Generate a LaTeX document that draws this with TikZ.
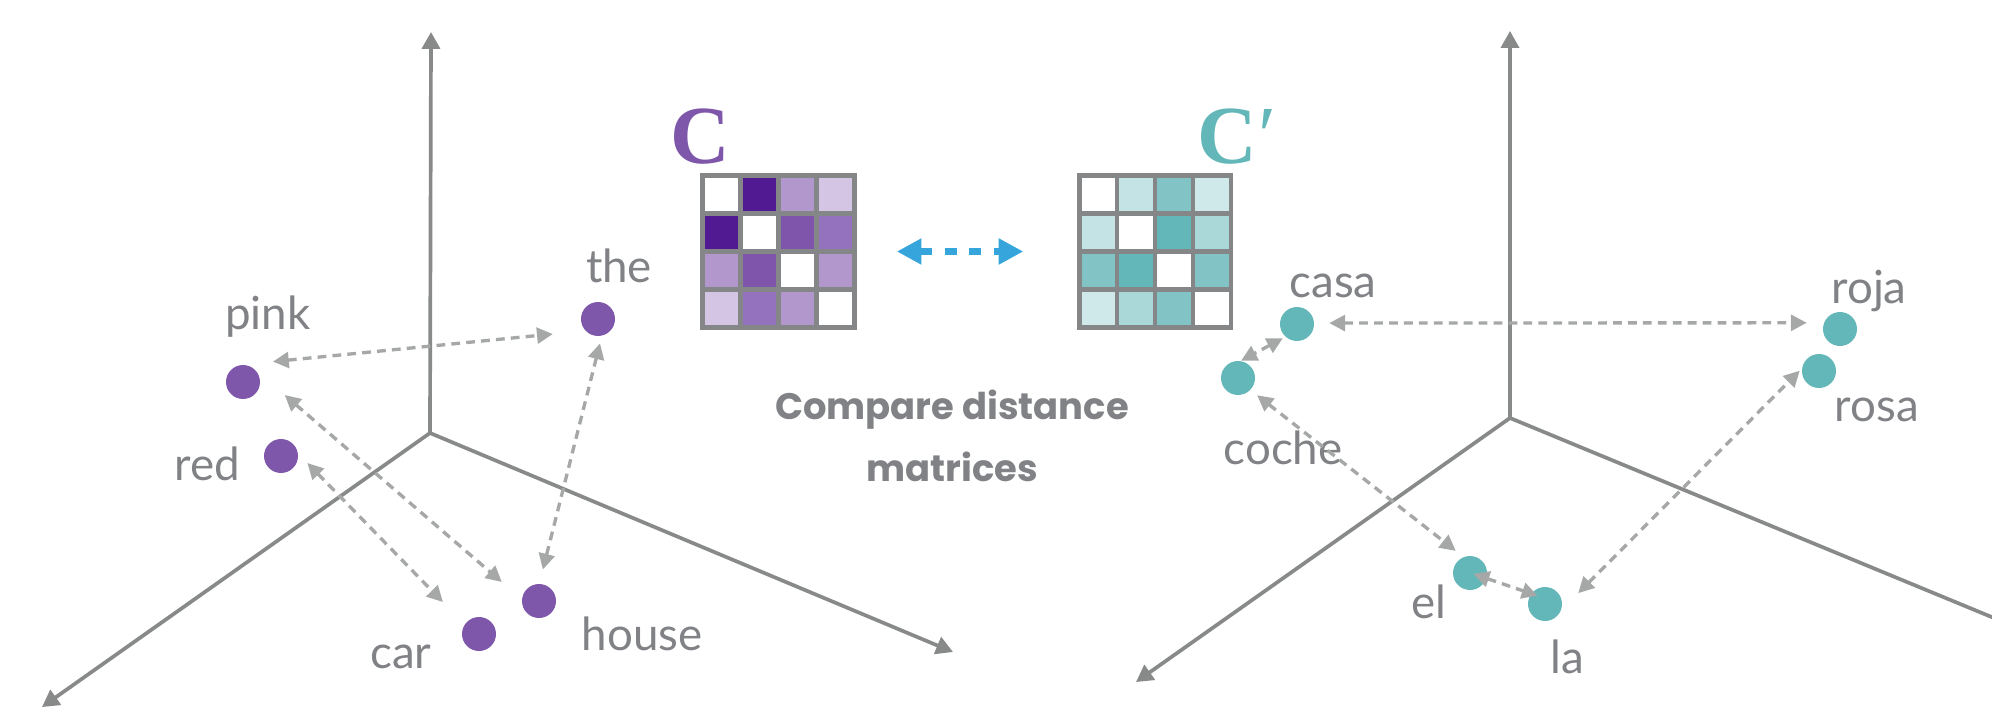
\documentclass[tikz,border=0pt]{standalone}
\usepackage{fontspec}
\setmainfont{Lato}
\newfontfamily\capserif{Liberation Serif}
\newfontfamily\cmpfont{Poppins}
\usetikzlibrary{arrows.meta}

\definecolor{axisgray}{RGB}{136,137,137}
\definecolor{linkgray}{RGB}{166,168,168}
\definecolor{wordgray}{RGB}{128,130,133}
\definecolor{gridgray}{RGB}{132,134,135}
\definecolor{cmpblue}{RGB}{53,165,220}
\definecolor{dotpurple}{RGB}{126,87,170}
\definecolor{dotteal}{RGB}{99,183,184}
% purple matrix shades
\definecolor{cdark}{RGB}{82,26,146}
\definecolor{cmid}{RGB}{126,85,170}
\definecolor{csoft}{RGB}{149,114,189}
\definecolor{clight}{RGB}{177,151,204}
\definecolor{cpale}{RGB}{213,197,229}
% teal matrix shades
\definecolor{tdark}{RGB}{100,183,184}
\definecolor{tmid}{RGB}{130,196,197}
\definecolor{tsoft}{RGB}{170,216,217}
\definecolor{tlight}{RGB}{195,227,228}
\definecolor{tpale}{RGB}{207,232,233}

\tikzset{
  axis/.style={draw=axisgray, line width=2.1pt, -{Triangle[length=9.6pt,width=10.2pt]}},
  link/.style={draw=linkgray, line width=1.9pt, dash pattern=on 5pt off 3.5pt,
    {Triangle[length=9pt,width=9pt]}-{Triangle[length=9pt,width=9pt]}},
  compare/.style={draw=cmpblue, line width=4pt, dash pattern=on 7pt off 7pt,
    {Triangle[length=14pt,width=14pt]}-{Triangle[length=14pt,width=14pt]}},
  pdot/.style={circle, fill=dotpurple, minimum size=0.68cm, inner sep=0pt},
  tdot/.style={circle, fill=dotteal, minimum size=0.68cm, inner sep=0pt},
  word/.style={text=wordgray, font=\fontsize{26}{30}\selectfont, anchor=base, inner sep=0pt},
  matbox/.style={draw=gridgray, line width=2.83pt, minimum size=3.04cm, inner sep=0pt},
  gridline/.style={draw=gridgray, line width=2.83pt},
  clabel/.style={font=\capserif\bfseries\fontsize{47}{47}\selectfont, anchor=base west, inner sep=0pt},
  cmptext/.style={text=wordgray, font=\cmpfont\bfseries\fontsize{21}{35.7}\selectfont, align=center},
}

\begin{document}
\begin{tikzpicture}[x=0.02cm, y=-0.02cm]
  \path[use as bounding box, fill=white] (0,0) rectangle (1992,720);
  \clip (0,0) rectangle (1992,720);

  % left space
  \coordinate (lo) at (430,433);
  \coordinate (ly) at (431,32);
  \coordinate (lx) at (42,707);
  \coordinate (lz) at (953,652);
  \draw[axis] (lo) -- (ly);
  \draw[axis] (lo) -- (lx);
  \draw[axis] (lo) -- (lz);

  % right space
  \coordinate (ro) at (1510,418);
  \coordinate (ry) at (1510,31);
  \coordinate (rx) at (1136,682);
  \coordinate (rz) at (2040,637);
  \draw[axis] (ro) -- (ry);
  \draw[axis] (ro) -- (rx);
  \draw[axis] (ro) -- (rz);

  % distance matrix C
  \foreach \clr [count=\k from 0] in {white,cdark,clight,cpale, cdark,white,cmid,csoft,
      clight,cmid,white,clight, cpale,csoft,clight,white}
    \fill[\clr] ({702.5+38*mod(\k,4)},{175.5+38*int(\k/4)}) rectangle ++(38,38);
  \foreach \t in {1,2,3} {
    \draw[gridline] (702.5+38*\t,175.5) -- ++(0,152);
    \draw[gridline] (702.5,175.5+38*\t) -- ++(152,0);
  }
  \node[matbox] (Cmat) at (778.5,251.5) {};
  \node[clabel, text=dotpurple] (Clab) at (670,163) {C};

  % distance matrix C'
  \foreach \clr [count=\k from 0] in {white,tlight,tmid,tpale, tlight,white,tdark,tsoft,
      tmid,tdark,white,tmid, tpale,tsoft,tmid,white}
    \fill[\clr] ({1079+38*mod(\k,4)},{175.5+38*int(\k/4)}) rectangle ++(38,38);
  \foreach \t in {1,2,3} {
    \draw[gridline] (1079+38*\t,175.5) -- ++(0,152);
    \draw[gridline] (1079,175.5+38*\t) -- ++(152,0);
  }
  \node[matbox] (Cpmat) at (1155,251.5) {};
  \node[clabel, text=dotteal] (Cplab) at (1197,163) {C\kern1pt{\mdseries ′}};

  \draw[compare, shorten <=22.7pt, shorten >=30.3pt] (Cmat.east) -- (Cpmat.west);
  \node[cmptext] (cmp) at (952,436) {Compare distance\\matrices};

  % english words
  \node[pdot] (pink)  at (243,382) {};
  \node[pdot] (red)   at (281,456) {};
  \node[pdot] (the)   at (598,319) {};
  \node[pdot] (house) at (539,601) {};
  \node[pdot] (car)   at (479,634) {};
  \node[word] (pinkl)  at (268,329) {pink};
  \node[word] (redl)   at (207,480) {red};
  \node[word] (thel)   at (619,282) {the};
  \node[word] (housel) at (642,650) {house};
  \node[word] (carl)   at (401,668) {car};

  % spanish words
  \node[tdot] (casa)  at (1297,324) {};
  \node[tdot] (coche) at (1238,378) {};
  \node[tdot] (el)    at (1470,573) {};
  \node[tdot] (la)    at (1545,604) {};
  \node[tdot] (roja)  at (1840,329) {};
  \node[tdot] (rosa)  at (1819,371) {};
  \node[word] (casal)  at (1333,297) {casa};
  \node[word] (cochel) at (1283,464) {coche};
  \node[word] (ell)    at (1429,618) {el};
  \node[word] (lal)    at (1567,673) {la};
  \node[word] (rojal)  at (1869,303) {roja};
  \node[word] (rosal)  at (1877,421) {rosa};

  \draw[link, shorten <=18pt, shorten >=18.6pt] (pink.95) -- (the.223);
  \draw[link, shorten <=22.8pt, shorten >=15pt] (pink.49) -- (house.174);
  \draw[link, shorten <=7.5pt, shorten >=17.7pt] (red.8) -- (car.146);
  \draw[link, shorten <=4.4pt, shorten >=8.3pt] (the.-77) -- (house.89);

  \draw[link, shorten <=8.5pt, shorten >=9.7pt] (casa.3) -- (roja.159);
  \draw[link, shorten <=1.7pt, shorten >=0.3pt] (casa.228) -- (coche.81);
  \draw[link, shorten <=4.8pt, shorten >=5.6pt] (coche.-44) -- (el.112);
  \draw[link, shorten <=-7.8pt, shorten >=-3.9pt] (el.-18) -- (la.143);
  \draw[link, shorten <=13.7pt, shorten >=1.7pt] (la.-21) -- (rosa.172);
\end{tikzpicture}
\end{document}
